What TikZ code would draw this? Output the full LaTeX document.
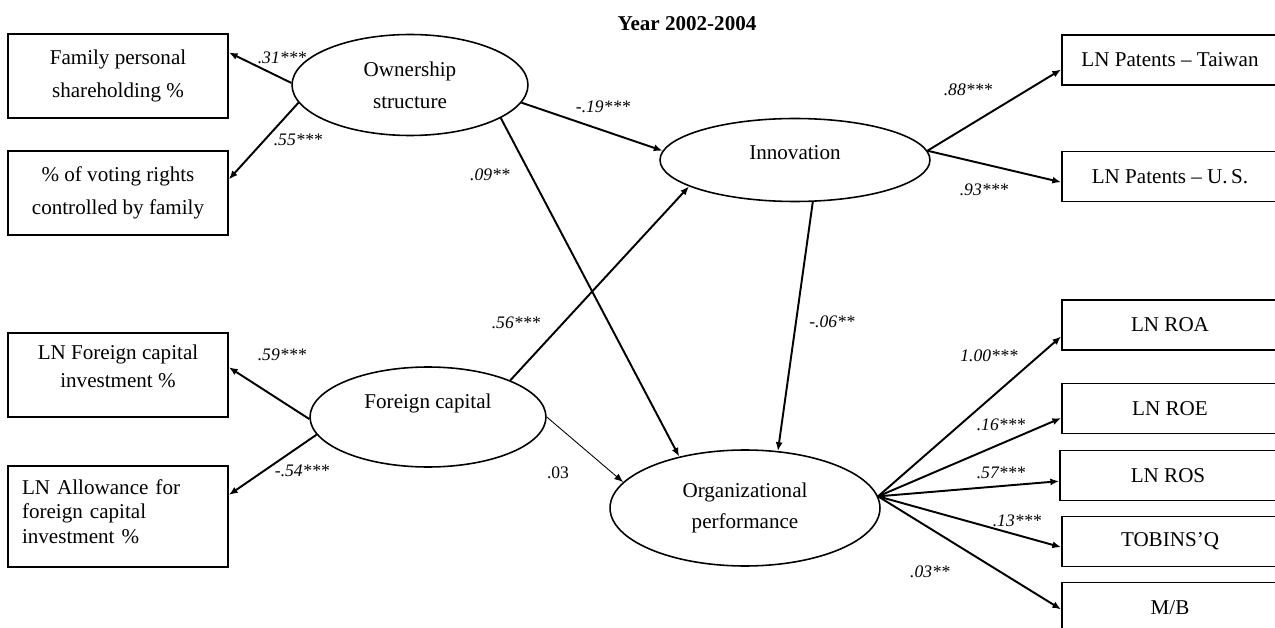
\documentclass[tikz,border=0pt]{standalone}
\usepackage{fontspec}
\setmainfont{Liberation Serif}
\usetikzlibrary{shapes.geometric,arrows.meta}
\begin{document}
\begin{tikzpicture}[x=0.02cm,y=-0.02cm,
  box/.style={draw,line width=1pt,inner sep=0pt,minimum width=4.4cm,minimum height=1.68cm,
    align=center,font=\fontsize{12}{19}\selectfont},
  rbox/.style={draw,line width=1pt,inner sep=0pt,minimum width=4.32cm,minimum height=1cm,
    font=\fontsize{12}{14}\selectfont},
  latent/.style={draw,ellipse,line width=0.9pt,inner sep=0pt,align=center,
    font=\fontsize{12}{18}\selectfont},
  link/.style={line width=1.1pt,-{Latex[length=5pt,width=4pt]}},
  weak/.style={line width=0.5pt,-{Latex[length=5pt,width=4pt]}},
  coef/.style={inner sep=1pt,font=\fontsize{10}{12}\selectfont\itshape},
  plain/.style={inner sep=1pt,font=\fontsize{10}{12}\selectfont},
]
\clip (0,0) rectangle (1275,628);
\fill[white] (0,0) rectangle (1275,628);

% title
\node[font=\bfseries\fontsize{12}{14}\selectfont] (title) at (687,24) {Year 2002-2004};

% indicators on the left
\node[box] (fam) at (118,76) {Family personal\\shareholding \%};
\node[box] (vote) at (118,193) {\% of voting rights\\controlled by family};
\node[box,font=\fontsize{12}{16}\selectfont,text depth=10pt] (fdi) at (118,375) {LN Foreign capital\\investment \%};
\node[box,minimum height=2.02cm,align=left,text width=3.84cm,text depth=34pt,
  font=\fontsize{12}{14}\selectfont] (allow) at (118,516.5) {LN Allowance for\\foreign capital\\investment \%};

% indicators on the right
\node[rbox] (tw) at (1170,60) {LN Patents – Taiwan};
\node[rbox] (us) at (1170,176.5) {LN Patents – U.\,S.};
\node[rbox] (roa) at (1170,325) {LN ROA};
\node[rbox] (roe) at (1170,408.5) {LN ROE};
\node[rbox] (ros) at (1168,475.5) {LN ROS};
\node[rbox] (tq) at (1170,541.5) {TOBINS'Q};
\node[rbox] (mb) at (1170,607.5) {M/B};

% latent constructs
\node[latent,minimum width=4.72cm,minimum height=2.02cm] (own) at (410,85) {Ownership\\structure};
\node[latent,minimum width=5.4cm,minimum height=1.66cm,text depth=9pt] (inn) at (795,160) {Innovation};
\node[latent,minimum width=4.72cm,minimum height=2cm,text depth=18pt] (fc) at (428,417) {Foreign capital};
\node[latent,minimum width=5.4cm,minimum height=2.32cm] (org) at (745,508) {Organizational\\performance};

% measurement paths
\draw[link] (own.179) -- (fam.12);
\draw[link] (own.189) -- (vote.7);
\draw[link] (fc.181) -- (fdi.4);
\draw[link] (fc.189) -- (allow.11);
\draw[link] (inn.4) -- (tw.185);
\draw[link] (inn.4) -- (us.183);
\draw[link] (org.5) -- (roa.186);
\draw[link] (org.5) -- (roe.185);
\draw[link] (org.5) -- (ros.183);
\draw[link] (org.5) -- (tq.183);
\draw[link] (org.5) -- (mb.181);

% structural paths
\draw[link] (own.-9) -- (inn.176);
\draw[link] (own.-20) -- (org.142);
\draw[link] (fc.24) -- (inn.194);
\draw[weak] (fc.0) -- (org.168);
\draw[link] (inn.-67) -- (org.60);

% coefficients
\node[coef] (c1) at (282,58) {.31***};
\node[coef] (c2) at (298,140) {.55***};
\node[coef] (c3) at (603,107) {-.19***};
\node[coef] (c4) at (490,175) {.09**};
\node[coef] (c5) at (516,323) {.56***};
\node[coef] (c6) at (832,322) {-.06**};
\node[plain] (c7) at (558,473) {.03};
\node[coef] (c8) at (282,355) {.59***};
\node[coef] (c9) at (302,471) {-.54***};
\node[coef] (c10) at (968,90) {.88***};
\node[coef] (c11) at (984,190) {.93***};
\node[coef] (c12) at (989,356) {1.00***};
\node[coef] (c13) at (1001,425) {.16***};
\node[coef] (c14) at (1001,473) {.57***};
\node[coef] (c15) at (1017,521) {.13***};
\node[coef] (c16) at (930,572) {.03**};
\end{tikzpicture}
\end{document}
